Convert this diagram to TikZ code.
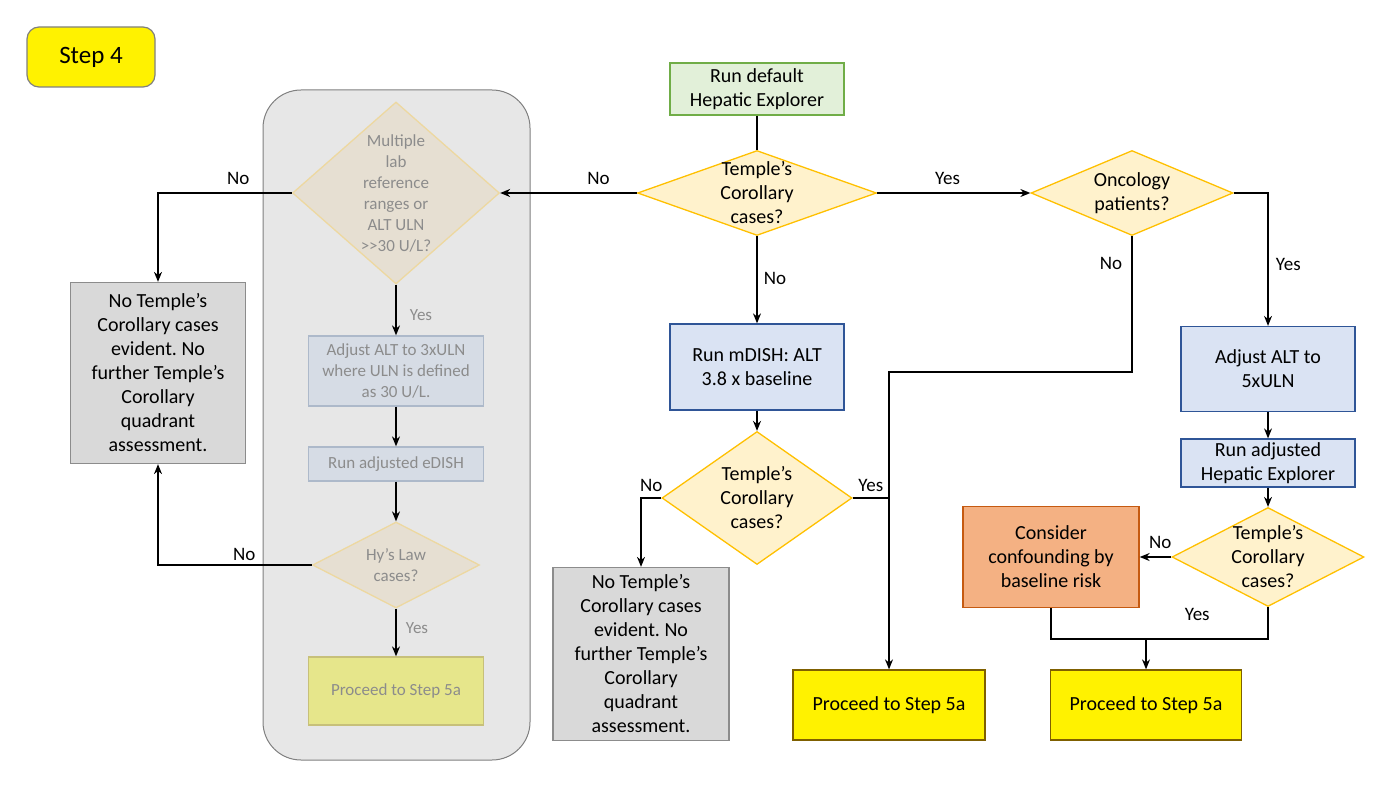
\documentclass[tikz,border=0pt]{standalone}
\usepackage{fontspec}
\setmainfont{Carlito}
\usepackage{tikz}
\usetikzlibrary{shapes.geometric, arrows.meta, positioning, calc}
\frenchspacing

\definecolor{stepline}{HTML}{808080}
\definecolor{panelfill}{HTML}{E7E7E7}
\definecolor{panelline}{HTML}{808080}
\definecolor{greenfill}{HTML}{E2F0D9}
\definecolor{greenline}{HTML}{70AD47}
\definecolor{decfill}{HTML}{FFF2CC}
\definecolor{decline}{HTML}{FFC000}
\definecolor{bluefill}{HTML}{DAE3F3}
\definecolor{blueline}{HTML}{2F5597}
\definecolor{grayfill}{HTML}{D9D9D9}
\definecolor{grayline}{HTML}{8C8C8C}
\definecolor{orangefill}{HTML}{F4B183}
\definecolor{orangeline}{HTML}{C55A11}
\definecolor{endline}{HTML}{7F6000}
\definecolor{fadetext}{HTML}{8C8C8C}
\definecolor{fadedecfill}{HTML}{E6DFD2}
\definecolor{fadedecline}{HTML}{EDD8A0}
\definecolor{fadeboxfill}{HTML}{D6DCE5}
\definecolor{fadeboxline}{HTML}{ADB9CA}
\definecolor{fadeendfill}{HTML}{E6E68B}
\definecolor{fadeendline}{HTML}{C7C07A}

\begin{document}
\begin{tikzpicture}[x=1pt, y=-1pt,
      every node/.style={align=center, font=\fontsize{20}{24}\selectfont},
      process/.style={rectangle, draw=blueline, fill=bluefill, line width=1.3pt, minimum width=174pt},
      start/.style={rectangle, draw=greenline, fill=greenfill, line width=1.3pt, minimum width=174pt},
      decision/.style={diamond, draw=decline, fill=decfill, line width=1.3pt, inner sep=0pt},
      stopbox/.style={rectangle, draw=grayline, fill=grayfill, line width=1.3pt, minimum width=175pt},
      endbox/.style={rectangle, draw=endline, fill=yellow, line width=1.3pt, minimum width=191pt, minimum height=70pt},
      fadeproc/.style={rectangle, draw=fadeboxline, fill=fadeboxfill, line width=1.3pt, minimum width=175pt, text=fadetext, font=\fontsize{17}{21}\selectfont},
      fadedec/.style={diamond, draw=fadedecline, fill=fadedecfill, line width=1.3pt, inner sep=0pt},
      fadetxt/.style={text=fadetext, font=\fontsize{17}{21}\selectfont},
      lbl/.style={font=\fontsize{19}{22}\selectfont},
      line/.style={line width=1.2pt},
      arrow/.style={line width=1.2pt, -{Stealth[length=10pt, width=8pt]}}
   ]
   \useasboundingbox (0,0) rectangle (1391,786);

   % Step header
   \node (step) [rectangle, rounded corners=12pt, draw=stepline, fill=yellow, line width=1.2pt,
         minimum width=128pt, minimum height=60pt, font=\fontsize{25}{30}\selectfont] at (91,57) {Step 4};

   % Greyed-out branch
   \node (panel) [rectangle, rounded corners=38pt, draw=panelline, fill=panelfill, line width=1pt,
         minimum width=267pt, minimum height=670pt] at (396.5,425) {};
   \node (multi) [fadedec, minimum width=207pt, minimum height=182pt,
         label={[fadetxt]center:Multiple\\lab\\reference\\ranges or\\ALT ULN\\>\kern0pt>30 U/L?}] at (396,193) {};
   \node (adj3) [fadeproc, minimum height=70pt] at (396,371) {Adjust ALT to 3xULN\\where ULN is defined\\as 30 U/L.};
   \node (runedish) [fadeproc, minimum height=34pt] at (396,464) {Run adjusted eDISH};
   \node (hyslaw) [fadedec, minimum width=167pt, minimum height=86pt,
         label={[fadetxt]center:Hy's Law\\cases?}] at (396,565) {};
   \node (proc0) [rectangle, draw=fadeendline, fill=fadeendfill, line width=1.3pt, minimum width=175pt,
         minimum height=68pt, fadetxt] at (396,691) {Proceed to Step 5a};

   % Left outcome
   \node (nocase1) [stopbox, minimum height=181pt] at (158,373) {No Temple's\\Corollary cases\\evident. No\\further Temple's\\Corollary\\quadrant\\assessment.};

   % Main column
   \node (hepdef) [start, minimum height=52pt] at (757,89) {Run default\\Hepatic Explorer};
   \node (tc1) [decision, minimum width=239pt, minimum height=85pt,
         label={center:Temple's\\Corollary\\cases?}] at (757,193) {};
   \node (mdish) [process, minimum height=86pt] at (757,367) {Run mDISH: ALT\\3.8 x baseline};
   \node (tc2) [decision, minimum width=190pt, minimum height=133pt,
         label={center:Temple's\\Corollary\\cases?}] at (757,498) {};
   \node (nocase2) [stopbox, minimum width=176pt, minimum height=173pt] at (641,654) {No Temple's\\Corollary cases\\evident. No\\further Temple's\\Corollary\\quadrant\\assessment.};
   \node (proc1) [endbox, minimum width=192pt] at (889,705) {Proceed to Step 5a};

   % Oncology column
   \node (onc) [decision, minimum width=202pt, minimum height=85pt,
         label={center:Oncology\\patients?}] at (1132,193) {};
   \node (adj5) [process, minimum height=85pt] at (1268,369) {Adjust ALT to\\5xULN};
   \node (runadj) [process, minimum height=48pt] at (1268,463) {Run adjusted\\Hepatic Explorer};
   \node (tc3) [decision, minimum width=192pt, minimum height=99pt,
         label={center:Temple's\\Corollary\\cases?}] at (1268,557) {};
   \node (conf) [rectangle, draw=orangeline, fill=orangefill, line width=1.3pt, minimum width=176pt,
         minimum height=101pt] at (1051,557) {Consider\\confounding by\\baseline risk};
   \node (proc2) [endbox] at (1146,705) {Proceed to Step 5a};

   \coordinate (bend) at (889,372);
   \coordinate (merge) at (1146,639);

   % Connectors
   \draw [line] (hepdef) -- (tc1);
   \draw [arrow] (tc1.west) -- node[lbl, above, pos=0.28, yshift=4pt] {No} (multi.east);
   \draw [arrow] (multi.west) -| node[lbl, above, pos=0.2, yshift=4pt] {No} (nocase1.north);
   \draw [arrow] (multi.south) -- node[lbl, fadetxt, right, pos=0.6, xshift=10pt] {Yes} (adj3.north);
   \draw [arrow] (adj3) -- (runedish);
   \draw [arrow] (runedish) -- (hyslaw);
   \draw [arrow] (hyslaw.south) -- node[lbl, fadetxt, right, pos=0.4, xshift=6pt] {Yes} (proc0.north);
   \draw [arrow] (hyslaw.west) -| node[lbl, above, pos=0.22] {No} (nocase1.south);

   \draw [arrow] (tc1.east) -- node[lbl, above, pos=0.46, yshift=4pt] {Yes} (onc.west);
   \draw [arrow] (tc1.south) -- node[lbl, right, pos=0.49, xshift=3pt] {No} (mdish.north);
   \draw [arrow] (mdish) -- (tc2);
   \draw [arrow] (tc2.west) -| node[lbl, above, pos=0.25, yshift=2pt] {No} (nocase2.north);
   \draw [line] (tc2.east) -- node[lbl, above, pos=0.5, yshift=2pt] {Yes} (tc2.east -| bend);
   \draw [arrow] (onc.south) |- node[lbl, left, pos=0.1, xshift=-6pt] {No} (bend) -- (proc1.north);

   \draw [arrow] (onc.east) -| node[lbl, right, pos=0.77, xshift=4pt] {Yes} (adj5.north);
   \draw [arrow] (adj5) -- (runadj);
   \draw [arrow] (runadj) -- (tc3);
   \draw [arrow] (tc3.west) -- node[lbl, above, pos=0.35, yshift=4pt] {No} (conf.east);
   \draw [line] (conf.south) |- (merge);
   \draw [line] (tc3.south) |- node[lbl, above, pos=0.79, yshift=14pt] {Yes} (merge);
   \draw [arrow] (merge) -- (proc2.north);
\end{tikzpicture}
\end{document}
